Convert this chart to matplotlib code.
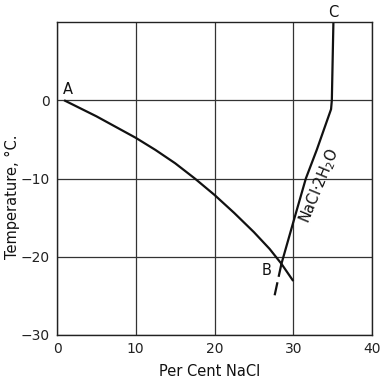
import matplotlib
matplotlib.use("Agg")
import matplotlib.pyplot as plt

# Freezing curve A-B (ice + solution)
ab_x = [0.9, 5.0, 10.0, 12.5, 15.0, 17.5, 20.0, 22.5, 25.0, 27.0, 28.5, 30.0]
ab_y = [0.0, -2.05, -4.8, -6.35, -8.05, -10.0, -12.1, -14.4, -16.85, -19.0, -20.9, -23.1]

# Solubility curve C-B (NaCl / NaCl·2H2O)
cb_x = [35.1, 34.9, 34.8, 33.0, 31.6, 30.0, 28.5]
cb_y = [10.0, 0.0, -1.15, -6.3, -10.0, -15.6, -20.9]

# Metastable (dashed) continuation below B
dash_x = [28.5, 27.6]
dash_y = [-20.9, -25.1]

x_ticks = [0, 10, 20, 30, 40]
y_ticks = [-30, -20, -10, 0]

W, H = 388, 379
fig = plt.figure(figsize=(W / 100, H / 100), dpi=100)
ax = fig.add_axes([57 / W, 1 - 335 / H, 315 / W, 313 / H])
ax.set_xlim(0, 40)
ax.set_ylim(-30, 10)
ax.set_xticks(x_ticks)
ax.set_yticks(y_ticks)
ax.set_yticklabels([f"{v}".replace("-", "\u2212") for v in y_ticks])
ax.tick_params(length=0, pad=5, labelsize=10, colors="#222222")
ax.grid(True, color="#333333", linewidth=0.9)
ax.set_axisbelow(True)
for s in ax.spines.values():
    s.set_linewidth(1.0)
    s.set_color("#222222")

ax.plot(ab_x, ab_y, color="#111111", lw=1.6, solid_capstyle="butt")
ax.plot(cb_x, cb_y, color="#111111", lw=1.6)
ax.plot(dash_x, dash_y, color="#111111", lw=1.6, dashes=(6, 2.5))

ax.text(1.4, 1.4, "A", fontsize=10.5, ha="center", va="center", color="#111111")
ax.text(26.6, -21.7, "B", fontsize=10.5, ha="center", va="center", color="#111111")
ax.text(35.1, 11.2, "C", fontsize=10.5, ha="center", va="center", color="#111111", clip_on=False)
ax.text(33.3, -11.0, "NaCl\u00b72H$_2$O", fontsize=10.5, rotation=67.5,
        ha="center", va="center", color="#111111", rotation_mode="anchor")

fig.text(210 / W, 1 - 371 / H, "Per Cent NaCl", fontsize=10.5, color="#111111",
         ha="center", va="center")
fig.text(12 / W, 1 - 197 / H, "Temperature, \u00b0C.", fontsize=10.5, color="#111111",
         ha="center", va="center", rotation=90)

fig.savefig("out.png", dpi=100, facecolor="white")
